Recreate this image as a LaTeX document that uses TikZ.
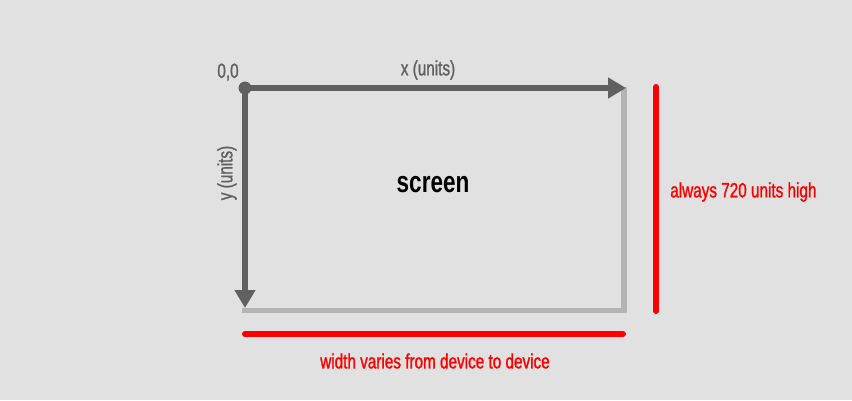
\documentclass[tikz,border=0pt]{standalone}
\usepackage{fontspec}
\setmainfont{Liberation Sans}[FakeStretch=0.75]
\newfontfamily\labelfont{Liberation Sans}[FakeStretch=0.74, FakeBold=1.2]
\usetikzlibrary{arrows.meta,positioning}
\definecolor{bggray}{HTML}{E1E1E1}
\definecolor{axisgray}{HTML}{606060}
\definecolor{edgegray}{HTML}{B3B3B3}
\definecolor{signred}{HTML}{FF0000}
\tikzset{
  axisline/.style={
    draw=axisgray, line width=5pt,
    -{Triangle[length=13.5pt, width=15pt]}
  },
  edgeline/.style={draw=edgegray, line width=4.3pt},
  redbar/.style={draw=signred, line width=4.5pt, line cap=round},
  axislabel/.style={text=axisgray, font=\labelfont\fontsize{15.5}{18}\selectfont,
    inner sep=0pt},
  notelabel/.style={text=signred, font=\labelfont\fontsize{15.5}{18}\selectfont,
    inner sep=0pt},
}

\begin{document}
\begin{tikzpicture}[x=0.75pt, y=-0.75pt]
\useasboundingbox[fill=bggray] (0,0) rectangle (852,400);
% corners of the screen
\node[circle, fill=axisgray, inner sep=0pt, minimum size=9.5pt] (origin) at (245,88) {};
\coordinate (xend) at (626,88);
\coordinate (yend) at (245,308);
\coordinate (topright) at (624,87);
\coordinate (botright) at (624,310.5);
\coordinate (botleft) at (242,310.5);
% screen edges
\draw[edgeline] (topright) -- (botright) -- (botleft);
\draw[axisline] (origin.center) -- (xend);
\draw[axisline] (origin.center) -- (yend);
\node[circle, fill=axisgray, inner sep=0pt, minimum size=9.5pt] at (origin) {};
% red markers
\coordinate (htop) at (656,87);
\coordinate (hbot) at (656,311);
\coordinate (wleft) at (245,334);
\coordinate (wright) at (623,334);
\draw[redbar] (htop) -- (hbot);
\draw[redbar] (wleft) -- (wright);
% labels
\node[axislabel] (zero) at (228,72) {0,0};
\node[axislabel] (xlabel) at (428,70) {x (units)};
\node[axislabel, rotate=90] (ylabel) at (227,173) {y (units)};
\node[font=\fontsize{22.5}{26}\selectfont\bfseries, inner sep=0pt] (screen) at (433,185) {screen};
\node[notelabel, anchor=west] (height) at (670,192) {always 720 units high};
\node[notelabel] (width) at (435,361) {width varies from device to device};
\end{tikzpicture}
\end{document}
